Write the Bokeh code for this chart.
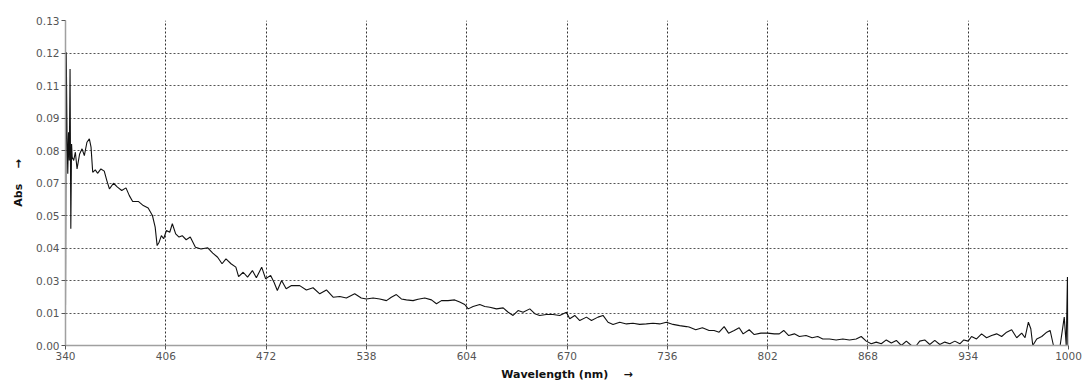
from bokeh.plotting import figure
from bokeh.models import Range1d, FixedTicker
from bokeh.embed import file_html
from bokeh.resources import INLINE

# Spectrum
wavelength = [
    340.0, 340.5, 341.0, 341.5, 342.0, 342.5, 343.0, 343.5, 344.0, 344.4,
    345.4, 346.5, 347.6, 349.3, 350.9, 352.4, 354.1, 355.7, 356.8, 357.9,
    359.6, 361.1, 363.3, 365.5, 367.2, 368.9, 371.6, 374.2, 377.0, 379.8,
    382.0, 384.2, 387.9, 391.2, 394.4, 397.2, 399.0, 400.3, 401.6, 403.1,
    404.6, 406.4, 408.6, 410.3, 412.5, 414.7, 416.8, 419.4, 422.1, 425.5,
    429.2, 433.6, 436.9, 440.1, 443.0, 445.6, 448.9, 452.1, 453.9, 456.9,
    459.8, 463.0, 465.6, 469.1, 471.7, 475.0, 477.2, 479.4, 482.2, 485.2,
    488.7, 492.4,
    494.1, 498.5, 502.9, 507.3, 511.7, 516.1, 520.5, 524.8, 530.3, 534.6,
    538.0, 542.4, 546.8, 551.2, 554.4, 557.7, 561.0, 564.3, 568.7, 572.0,
    576.4, 580.8, 584.1, 587.4, 591.7, 596.1, 599.4, 602.7, 605.0, 608.2,
    612.6, 615.9, 619.2, 623.6, 628.0, 631.3, 634.5, 637.8, 641.1, 645.5,
    648.8, 652.0, 656.4, 660.8, 665.2, 669.6, 671.8, 675.1, 678.4, 682.8,
    686.1, 690.4, 693.7, 697.0, 700.3, 704.7, 709.1, 713.4, 717.8, 722.2,
    726.6, 731.0, 735.4, 739.8, 744.1, 748.5,
    750.3, 754.7, 759.1, 763.5, 766.8, 770.1, 773.4, 776.3, 780.0, 783.3,
    785.9, 789.9, 793.2, 797.6, 802.0, 806.4, 809.7, 812.6, 815.9, 819.6,
    822.9, 827.3, 831.3, 835.0, 838.3, 842.7, 847.1, 851.5, 855.9, 860.3,
    863.6, 866.9, 870.2, 873.5, 876.8, 880.1, 883.4, 886.7, 890.0, 893.3,
    896.6, 899.9, 902.1, 905.4, 908.7, 912.0, 915.3, 918.6, 921.9, 925.2,
    928.5, 931.1, 934.0, 936.2, 939.5, 942.8, 946.1, 949.4, 952.7, 956.0,
    959.3, 962.6, 965.9, 969.2, 971.4, 973.6, 975.2, 976.5, 979.1, 982.4,
    985.7, 987.9, 990.1, 994.5, 997.2, 998.5, 999.3, 999.6, 1000.0,
]
absorbance = [
    0.0165, 0.1209, 0.0872, 0.0708, 0.0879, 0.0763, 0.1140, 0.0481, 0.0831, 0.0776,
    0.0763, 0.0797, 0.0728, 0.0790, 0.0811, 0.0783, 0.0838, 0.0852, 0.0818, 0.0714,
    0.0724, 0.0710, 0.0728, 0.0719, 0.0680, 0.0646, 0.0669, 0.0653, 0.0639, 0.0650,
    0.0618, 0.0594, 0.0594, 0.0577, 0.0567, 0.0536, 0.0488, 0.0412, 0.0426, 0.0453,
    0.0440, 0.0474, 0.0467, 0.0502, 0.0460, 0.0447, 0.0453, 0.0436, 0.0447, 0.0405,
    0.0398, 0.0403, 0.0381, 0.0364, 0.0337, 0.0357, 0.0337, 0.0323, 0.0284, 0.0302,
    0.0282, 0.0309, 0.0279, 0.0323, 0.0275, 0.0289, 0.0261, 0.0227, 0.0268, 0.0234,
    0.0247, 0.0247,
    0.0247, 0.0229, 0.0238, 0.0213, 0.0229, 0.0199, 0.0202, 0.0196, 0.0213, 0.0196,
    0.0192, 0.0196, 0.0192, 0.0185, 0.0199, 0.0210, 0.0192, 0.0188, 0.0185, 0.0191,
    0.0196, 0.0188, 0.0172, 0.0185, 0.0185, 0.0188, 0.0179, 0.0169, 0.0151, 0.0161,
    0.0169, 0.0161, 0.0158, 0.0151, 0.0155, 0.0137, 0.0124, 0.0144, 0.0137, 0.0151,
    0.0131, 0.0124, 0.0128, 0.0128, 0.0124, 0.0137, 0.0110, 0.0124, 0.0103, 0.0117,
    0.0103, 0.0117, 0.0124, 0.0096, 0.0087, 0.0096, 0.0089, 0.0092, 0.0087, 0.0089,
    0.0092, 0.0089, 0.0096, 0.0087, 0.0082, 0.0078,
    0.0076, 0.0065, 0.0073, 0.0062, 0.0062, 0.0055, 0.0078, 0.0051, 0.0062, 0.0073,
    0.0048, 0.0065, 0.0045, 0.0051, 0.0051, 0.0048, 0.0048, 0.0062, 0.0041, 0.0048,
    0.0037, 0.0041, 0.0032, 0.0037, 0.0027, 0.0027, 0.0023, 0.0027, 0.0023, 0.0027,
    0.0037, 0.0018, 0.0007, 0.0014, 0.0007, 0.0023, 0.0010, 0.0021, 0.0000, 0.0018,
    0.0000, 0.0000, 0.0018, 0.0023, 0.0004, 0.0021, 0.0004, 0.0014, 0.0007, 0.0018,
    0.0007, 0.0023, 0.0018, 0.0037, 0.0027, 0.0048, 0.0032, 0.0041, 0.0048, 0.0037,
    0.0055, 0.0065, 0.0032, 0.0051, 0.0032, 0.0096, 0.0069, 0.0000, 0.0027, 0.0037,
    0.0055, 0.0062, 0.0000, 0.0000, 0.0117, 0.0000, 0.0282, 0.0000, 0.0000,
]

x_ticks = [340, 406, 472, 538, 604, 670, 736, 802, 868, 934, 1000]
y_ticks = [0.0, 0.0134, 0.0268, 0.0402, 0.0536, 0.067, 0.0804, 0.0938, 0.1072, 0.1206, 0.134]
y_tick_labels = ["0.00", "0.01", "0.03", "0.04", "0.05", "0.07", "0.08", "0.09", "0.11", "0.12", "0.13"]

FONT = "DejaVu Sans"
GAP = "\u00a0\u00a0\u00a0\u00a0"

p = figure(width=1087, height=383,
           x_range=Range1d(340, 1000), y_range=Range1d(0, 0.134),
           output_backend="svg", toolbar_location=None,
           min_border_left=65, min_border_right=19,
           min_border_top=20, min_border_bottom=38)

p.line(wavelength, absorbance, line_color="#111111", line_width=1.1)

p.outline_line_color = None
p.background_fill_color = "white"
p.border_fill_color = "white"

p.xaxis.ticker = FixedTicker(ticks=x_ticks, minor_ticks=[])
p.yaxis.ticker = FixedTicker(ticks=y_ticks, minor_ticks=[])
p.yaxis.major_label_overrides = {t: l for t, l in zip(y_ticks, y_tick_labels)}

for ax in (p.xaxis, p.yaxis):
    ax.axis_line_color = "#a0a0a0"
    ax.axis_line_width = 1.5
    ax.major_tick_line_color = "#555555"
    ax.major_tick_out = 4
    ax.major_tick_in = 0
    ax.minor_tick_line_color = None
    ax.major_label_text_font = FONT
    ax.major_label_text_font_size = "10.5px"
    ax.major_label_text_color = "#555555"
    ax.major_label_standoff = 2
    ax.axis_label_text_font = FONT
    ax.axis_label_text_font_size = "11px"
    ax.axis_label_text_font_style = "bold"
    ax.axis_label_text_color = "#111111"

p.xaxis.axis_label = "Wavelength (nm)" + GAP + "\u2192"
p.xaxis.axis_label_standoff = 5
p.yaxis.axis_label = "Abs" + GAP + "\u2192"
p.yaxis.axis_label_standoff = 8

p.xgrid.grid_line_color = "#333333"
p.xgrid.grid_line_dash = "2 2"
p.xgrid.grid_line_width = 1
p.ygrid.grid_line_color = "#555555"
p.ygrid.grid_line_dash = "2 2"
p.ygrid.grid_line_width = 1

open("out.html", "w").write(file_html(p, INLINE))
